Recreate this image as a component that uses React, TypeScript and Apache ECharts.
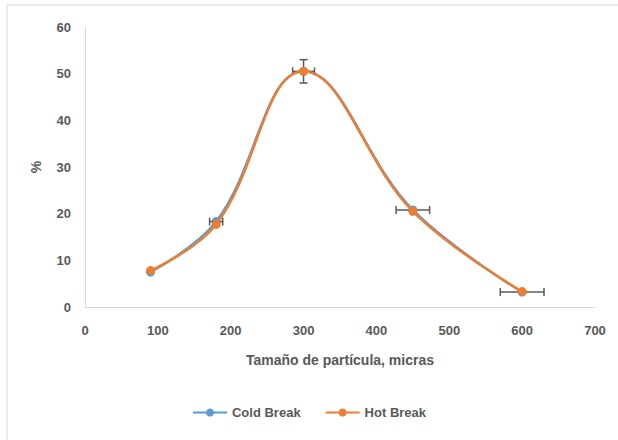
import React, { useEffect, useRef } from "react";
import * as echarts from "echarts";

const particleSizes = [90, 180, 300, 450, 600];
const coldBreak = [7.5, 18.3, 50.5, 20.8, 3.2];
const hotBreak = [7.8, 17.7, 50.5, 20.5, 3.3];
const xError = [0, 9, 15, 23, 30];
const yError = [0, 0, 2.5, 0, 0];
const xTicks = [0, 100, 200, 300, 400, 500, 600, 700];
const yTicks = [0, 10, 20, 30, 40, 50, 60];

const FONT = "'Liberation Sans', 'DejaVu Sans', sans-serif";
const GREY = "#595959";

export default function App() {
  const ref = useRef<HTMLDivElement>(null);
  useEffect(() => {
    document.body.style.margin = "0";
    if (!ref.current) return;
    const chart = echarts.init(ref.current, null, { renderer: "svg" });
    const errData = particleSizes.map((x, i) => [x, coldBreak[i], xError[i], yError[i]]);
    chart.setOption({
      animation: false,
      backgroundColor: "#ffffff",
      textStyle: { fontFamily: FONT },
      graphic: [
        {
          type: "rect",
          shape: { x: 7, y: 5, width: 700, height: 500 },
          style: { fill: "none", stroke: "#d9d9d9", lineWidth: 1 },
          silent: true,
        },
      ],
      grid: { left: 85, right: 23, top: 27, bottom: 133, containLabel: false },
      xAxis: {
        type: "value",
        min: xTicks[0],
        max: xTicks[xTicks.length - 1],
        interval: 100,
        name: "Tamaño de partícula, micras",
        nameLocation: "middle",
        nameGap: 46,
        nameTextStyle: { color: GREY, fontSize: 14, fontWeight: "bold", fontFamily: FONT },
        axisLine: { show: true, lineStyle: { color: "#d9d9d9", width: 1 } },
        axisTick: { show: false },
        splitLine: { show: false },
        axisLabel: { color: GREY, fontSize: 13, fontWeight: "bold", margin: 17, fontFamily: FONT },
      },
      yAxis: {
        type: "value",
        min: yTicks[0],
        max: yTicks[yTicks.length - 1],
        interval: 10,
        name: "%",
        nameLocation: "middle",
        nameGap: 42,
        nameRotate: 90,
        nameTextStyle: { color: GREY, fontSize: 14, fontWeight: "bold", fontFamily: FONT },
        axisLine: { show: true, lineStyle: { color: "#d9d9d9", width: 1 } },
        axisTick: { show: false },
        splitLine: { show: false },
        axisLabel: { color: GREY, fontSize: 13, fontWeight: "bold", margin: 14, fontFamily: FONT },
      },
      legend: {
        bottom: 16,
        left: "center",
        itemWidth: 34,
        itemHeight: 10,
        itemGap: 24,
        textStyle: { color: GREY, fontSize: 13, fontWeight: "bold", fontFamily: FONT },
        data: ["Cold Break", "Hot Break"],
      },
      series: [
        {
          name: "Cold Break",
          type: "line",
          smooth: 0.4,
          data: particleSizes.map((x, i) => [x, coldBreak[i]]),
          symbol: "circle",
          symbolSize: 9,
          itemStyle: { color: "#5b9bd5" },
          lineStyle: { color: "#5b9bd5", width: 2.5 },
          z: 2,
        },
        {
          name: "errors",
          type: "custom",
          data: errData,
          z: 3,
          silent: true,
          renderItem: (params: any, api: any) => {
            const x = api.value(0);
            const y = api.value(1);
            const xe = api.value(2);
            const ye = api.value(3);
            const children: any[] = [];
            const style = { stroke: GREY, lineWidth: 1.5 };
            const cap = 4;
            if (xe > 0) {
              const p1 = api.coord([x - xe, y]);
              const p2 = api.coord([x + xe, y]);
              children.push({ type: "line", shape: { x1: p1[0], y1: p1[1], x2: p2[0], y2: p2[1] }, style });
              children.push({ type: "line", shape: { x1: p1[0], y1: p1[1] - cap, x2: p1[0], y2: p1[1] + cap }, style });
              children.push({ type: "line", shape: { x1: p2[0], y1: p2[1] - cap, x2: p2[0], y2: p2[1] + cap }, style });
            }
            if (ye > 0) {
              const p1 = api.coord([x, y - ye]);
              const p2 = api.coord([x, y + ye]);
              children.push({ type: "line", shape: { x1: p1[0], y1: p1[1], x2: p2[0], y2: p2[1] }, style });
              children.push({ type: "line", shape: { x1: p1[0] - cap, y1: p1[1], x2: p1[0] + cap, y2: p1[1] }, style });
              children.push({ type: "line", shape: { x1: p2[0] - cap, y1: p2[1], x2: p2[0] + cap, y2: p2[1] }, style });
            }
            return { type: "group", children };
          },
        },
        {
          name: "Hot Break",
          type: "line",
          smooth: 0.4,
          data: particleSizes.map((x, i) => [x, hotBreak[i]]),
          symbol: "circle",
          symbolSize: 9,
          itemStyle: { color: "#ed7d31" },
          lineStyle: { color: "#ed7d31", width: 2.5 },
          z: 4,
        },
      ],
    });
    return () => chart.dispose();
  }, []);
  return <div ref={ref} style={{ width: 618, height: 440 }} />;
}
